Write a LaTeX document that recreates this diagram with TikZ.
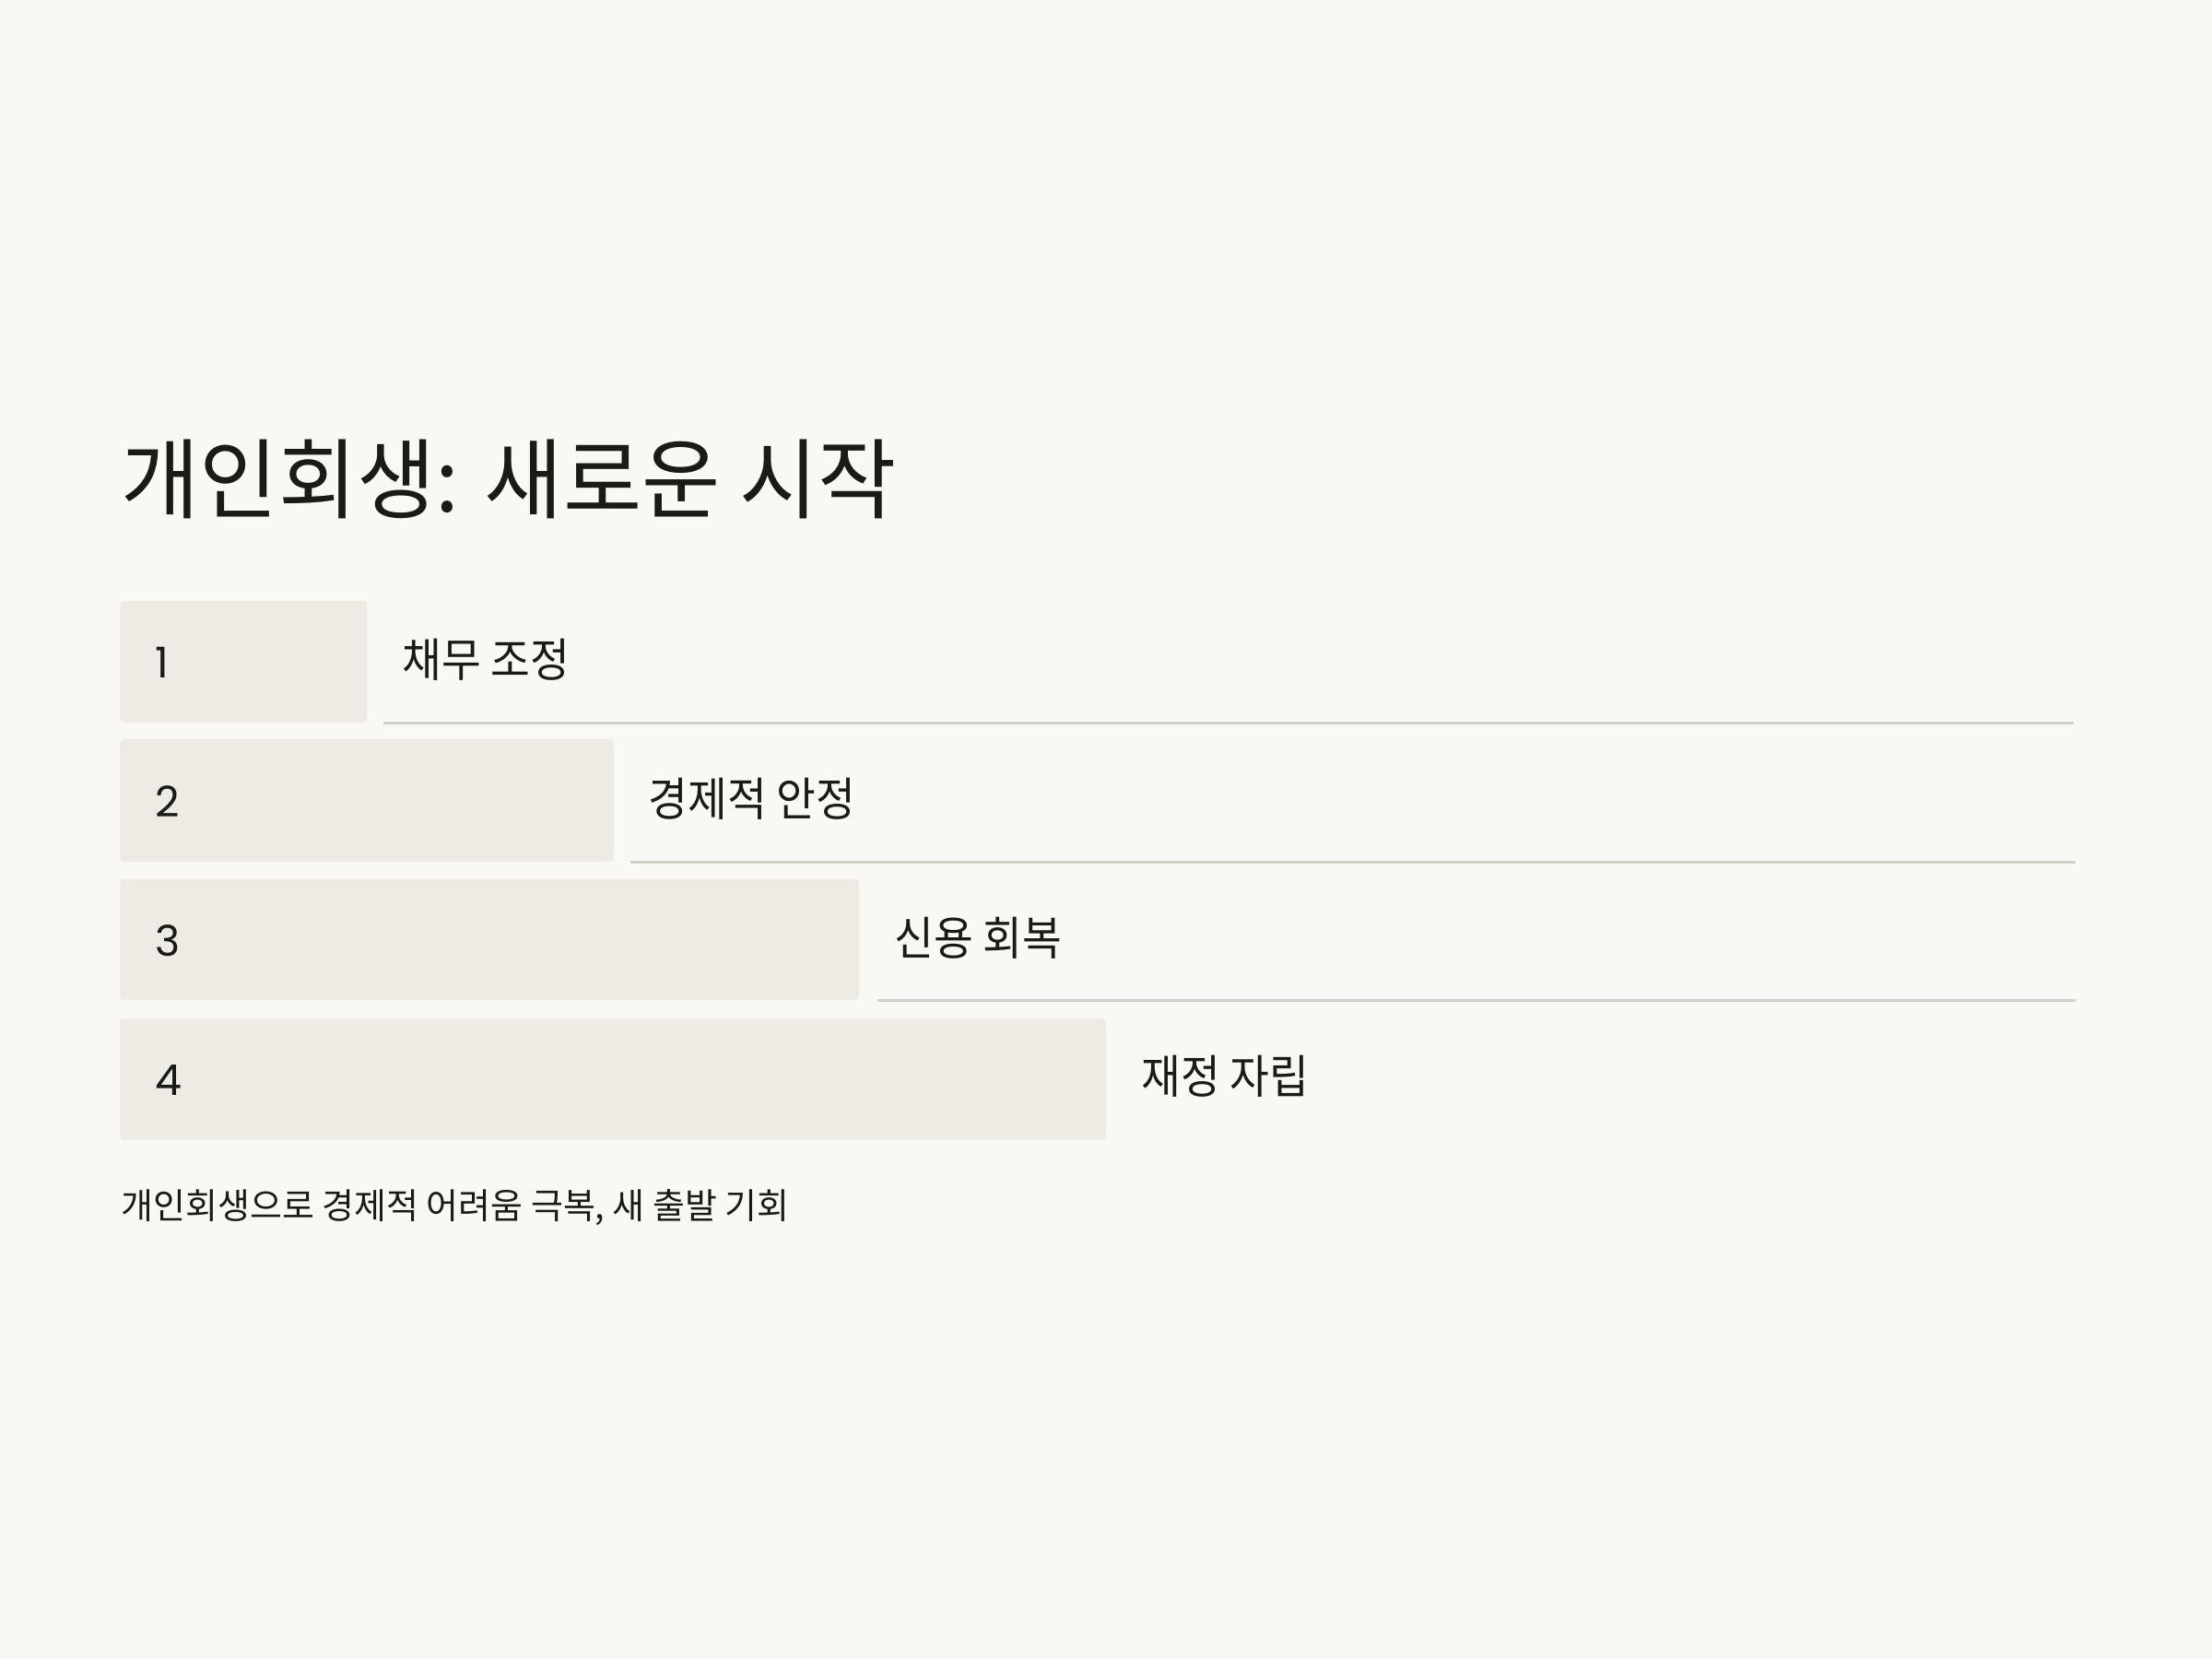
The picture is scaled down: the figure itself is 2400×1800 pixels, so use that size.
\documentclass[tikz,border=0pt]{standalone}
\usepackage{fontspec}
\newfontfamily\krtitle[FakeStretch=0.975]{Noto Sans CJK KR}
\newfontfamily\krlabel[FakeStretch=0.93]{Noto Sans CJK KR}
\newfontfamily\krfoot[FakeStretch=0.99]{Noto Sans CJK KR}
\newfontfamily\num{Poppins}
\definecolor{bg}{HTML}{F9F8F4}
\definecolor{barfill}{HTML}{EEEBE4}
\definecolor{rule}{HTML}{D3D1CA}
\definecolor{ink}{HTML}{1A1A16}
\tikzset{
  bar/.style={fill=barfill, rounded corners=1.2pt},
  sep/.style={draw=rule, line width=0.9pt},
  numtxt/.style={anchor=base west, inner sep=0pt, text=ink, font=\num\fontsize{13.8pt}{16pt}\selectfont},
  lbl/.style={anchor=base west, inner sep=0pt, text=ink, font=\krlabel\fontsize{15pt}{18pt}\selectfont},
  ttl/.style={anchor=base west, inner sep=0pt, text=ink, font=\krtitle\fontsize{28.5pt}{32pt}\selectfont},
  foot/.style={anchor=base west, inner sep=0pt, text=ink, font=\krfoot\fontsize{11.5pt}{14pt}\selectfont},
}
\begin{document}
\begin{tikzpicture}[x=0.3pt,y=-0.3pt]
\fill[bg] (0,0) rectangle (2400,1800);
\useasboundingbox (0,0) rectangle (2400,1800);
\node[ttl] (title) at (131,555) {개인회생: 새로운 시작};
% bars
\fill[bar] (130,652) rectangle (398,784);
\fill[bar] (130,802) rectangle (666,935);
\fill[bar] (130,954) rectangle (932,1085);
\fill[bar] (130,1105) rectangle (1200,1237);
\coordinate (l1a) at (416,784); \coordinate (l1b) at (2250,784);
\coordinate (l2a) at (684,935); \coordinate (l2b) at (2252,935);
\coordinate (l3a) at (952,1085); \coordinate (l3b) at (2252,1085);
\draw[sep] (l1a) -- (l1b);
\draw[sep] (l2a) -- (l2b);
\draw[sep] (l3a) -- (l3b);
\node[numtxt] (n1) at (168,735) {1};
\node[numtxt] (n2) at (168,886) {2};
\node[numtxt] (n3) at (168,1037) {3};
\node[numtxt] (n4) at (168,1188) {4};
\node[lbl] (t1) at (436,734) {채무 조정};
\node[lbl] (t2) at (703,885) {경제적 안정};
\node[lbl] (t3) at (970,1036) {신용 회복};
\node[lbl] (t4) at (1238,1186) {재정 자립};
\node[foot] (ft) at (131,1322) {개인회생으로 경제적 어려움 극복, 새 출발 기회};
\end{tikzpicture}
\end{document}
